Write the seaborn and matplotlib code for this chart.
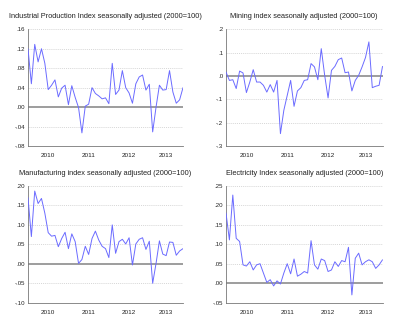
import numpy as np
import pandas as pd
import matplotlib
matplotlib.use("Agg")
import matplotlib.pyplot as plt
import seaborn as sns

# Monthly growth rates, Jan 2010 - Nov 2013
industrial = [0.12, 0.048, 0.129, 0.093, 0.12, 0.09, 0.036, 0.045, 0.056, 0.021, 0.039, 0.045,
              0.005, 0.044, 0.02, -0.001, -0.053, 0.002, 0.006, 0.04, 0.028, 0.023, 0.017, 0.019,
              0.007, 0.09, 0.026, 0.035, 0.075, 0.04, 0.029, 0.008, 0.048, 0.062, 0.066, 0.035,
              0.047, -0.051, 0.0, 0.045, 0.035, 0.036, 0.075, 0.031, 0.008, 0.015, 0.04]
mining = [0.017, -0.019, -0.016, -0.054, 0.021, 0.013, -0.071, -0.026, 0.027, -0.026, -0.026, -0.04,
          -0.069, -0.037, -0.069, -0.019, -0.247, -0.147, -0.083, -0.019, -0.13, -0.064, -0.05, -0.019,
          -0.016, 0.053, 0.039, -0.016, 0.117, 0.003, -0.094, 0.024, 0.041, 0.07, 0.077, 0.014,
          0.017, -0.064, -0.019, 0.003, 0.039, 0.079, 0.146, -0.05, -0.044, -0.04, 0.041]
manufacturing = [0.17, 0.07, 0.187, 0.155, 0.168, 0.13, 0.08, 0.071, 0.073, 0.044, 0.065, 0.081,
                 0.039, 0.077, 0.057, 0.001, 0.011, 0.045, 0.024, 0.065, 0.084, 0.061, 0.045, 0.039,
                 0.016, 0.10, 0.027, 0.057, 0.063, 0.051, 0.067, -0.003, 0.051, 0.063, 0.067, 0.037,
                 0.058, -0.05, 0.001, 0.059, 0.025, 0.021, 0.056, 0.055, 0.022, 0.033, 0.039]
electricity = [0.18, 0.111, 0.226, 0.115, 0.107, 0.047, 0.044, 0.055, 0.034, 0.047, 0.05, 0.026,
               0.002, 0.009, -0.007, 0.006, -0.002, 0.026, 0.05, 0.024, 0.062, 0.018, 0.023, 0.03,
               0.026, 0.109, 0.047, 0.036, 0.062, 0.058, 0.03, 0.034, 0.055, 0.043, 0.058, 0.055,
               0.092, -0.03, 0.064, 0.077, 0.047, 0.055, 0.06, 0.055, 0.038, 0.047, 0.06]

titles = ["Industrial Production Index seasonally adjusted (2000=100)",
          "Mining index seasonally adjusted (2000=100)",
          "Manufacturing index seasonally adjusted (2000=100)",
          "Electricity Index seasonally adjusted (2000=100)"]
years = ["2010", "2011", "2012", "2013"]

yticks = [[0.16, 0.12, 0.08, 0.04, 0.00, -0.04, -0.08],
          [0.2, 0.1, 0.0, -0.1, -0.2, -0.3],
          [0.20, 0.15, 0.10, 0.05, 0.00, -0.05, -0.10],
          [0.25, 0.20, 0.15, 0.10, 0.05, 0.00, -0.05]]
ytick_labels = [[".16", ".12", ".08", ".04", ".00", "-.04", "-.08"],
                [".2", ".1", ".0", "-.1", "-.2", "-.3"],
                [".20", ".15", ".10", ".05", ".00", "-.05", "-.10"],
                [".25", ".20", ".15", ".10", ".05", ".00", "-.05"]]

series = [industrial, mining, manufacturing, electricity]
n = len(industrial)
t = 2010 + np.arange(n) / 12.0

sns.set_style("white")
plt.rcParams["font.family"] = ["Liberation Sans", "DejaVu Sans"]

fig = plt.figure(figsize=(4.0, 3.25), dpi=100)

# axes boxes in pixels: left, top, right, bottom
boxes = [(28, 29.3, 183, 146), (226, 29.3, 382.5, 146),
         (28, 186, 183, 302.7), (226, 185.7, 382.5, 302.7)]
W, H = 400.0, 325.0
line_color = "#6b6bff"

for k in range(4):
    l, tp, r, b = boxes[k]
    ax = fig.add_axes([l / W, 1 - b / H, (r - l) / W, (b - tp) / H])
    df = pd.DataFrame({"t": t, "v": series[k]})
    ax.axhline(0, color="#8c8c8c", lw=1.2, zorder=1)
    for yv in yticks[k]:
        if abs(yv) > 1e-9 and yv != yticks[k][-1]:
            ax.axhline(yv, color="#c8c8c8", lw=0.5, ls=(0, (1.5, 1.5)), zorder=0)
    sns.lineplot(data=df, x="t", y="v", ax=ax, color=line_color, lw=0.7, zorder=3)
    ax.set_xlim(t[0], t[-1])
    ax.set_ylim(min(yticks[k]), max(yticks[k]))
    ax.set_yticks(yticks[k])
    ax.set_yticklabels(ytick_labels[k])
    ax.set_xticks([2010, 2011, 2012, 2013])
    ax.set_xticklabels([])
    ax.set_xticks([2010.5, 2011.5, 2012.5, 2013.42], minor=True)
    ax.set_xticklabels(years, minor=True)
    ax.tick_params(axis="x", which="major", direction="in", length=2.5, width=0.6, color="#555555")
    ax.tick_params(axis="x", which="minor", length=0, labelsize=4.6, pad=5, labelcolor="#222222")
    ax.tick_params(axis="y", direction="in", length=2, width=0.5, color="#777777",
                   labelsize=4.4, pad=2, labelcolor="#222222")
    ax.set_xlabel("")
    ax.set_ylabel("")
    for s in ["top", "right"]:
        ax.spines[s].set_visible(False)
    for s in ["left", "bottom"]:
        ax.spines[s].set_color("#777777")
        ax.spines[s].set_linewidth(0.6)
    ax.set_title(titles[k], fontsize=5.3, color="#222222", pad=8)

fig.savefig("out.png", dpi=100, facecolor="white")
